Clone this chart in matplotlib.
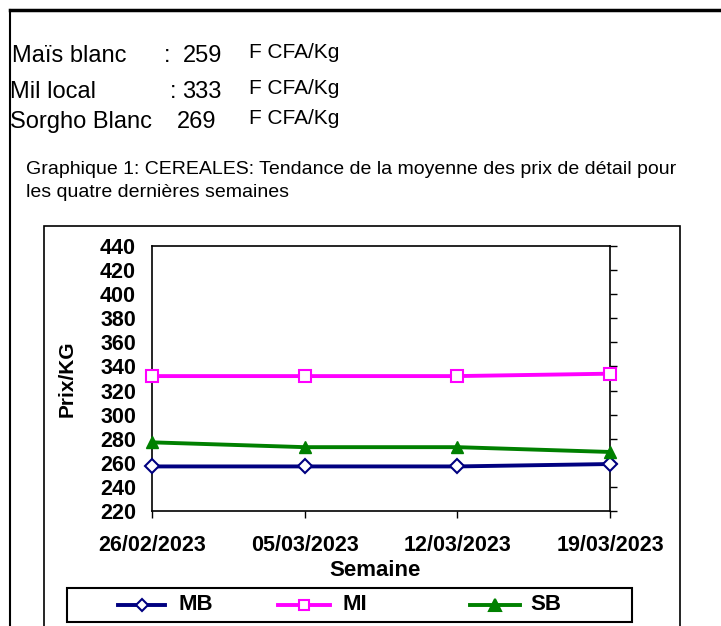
import matplotlib
matplotlib.use("Agg")
import matplotlib.pyplot as plt
from matplotlib.lines import Line2D
from matplotlib.patches import Rectangle

# ---- data ----
weeks = ["26/02/2023", "05/03/2023", "12/03/2023", "19/03/2023"]
mb = [257, 257, 257, 259]
mi = [332, 332, 332, 334]
sb = [277, 273, 273, 269]
series_names = ["MB", "MI", "SB"]
yticks = list(range(220, 441, 20))
summary_names = ["Maïs blanc", "Mil local", "Sorgho Blanc"]
summary_seps = [":", ":", ""]
summary_vals = ["259", "333", "269"]
unit = "F CFA/Kg"
caption = ["Graphique 1: CEREALES: Tendance de la moyenne des prix de détail pour",
           "les quatre dernières semaines"]

plt.rcParams['font.family'] = ['Liberation Sans', 'DejaVu Sans']

W, H = 721, 626
fig = plt.figure(figsize=(W / 100, H / 100), dpi=100)

def fx(x):
    return x / W

def fy(y):
    return 1 - y / H

# outer frame lines
fig.add_artist(Line2D([fx(10), fx(721)], [fy(10), fy(10)], color="black", lw=2.5))
fig.add_artist(Line2D([fx(10), fx(10)], [fy(10), fy(626)], color="black", lw=1.5))

# summary text
rows_y = [56, 92, 122]
name_x = [12, 10, 10]
sep_x = [164, 170, 0]
val_x = [183, 182, 177]
for i in range(3):
    fig.text(fx(name_x[i]), fy(rows_y[i]), summary_names[i], fontsize=17, va="center", ha="left")
    if summary_seps[i]:
        fig.text(fx(sep_x[i]), fy(rows_y[i]), summary_seps[i], fontsize=17, va="center", ha="left")
    fig.text(fx(val_x[i]), fy(rows_y[i]), summary_vals[i], fontsize=17, va="center", ha="left")
    fig.text(fx(249), fy(rows_y[i] - 3), unit, fontsize=15, va="center", ha="left")

fig.text(fx(26), fy(169), caption[0], fontsize=14, va="center", ha="left")
fig.text(fx(26), fy(193), caption[1], fontsize=14, va="center", ha="left")

# chart box
fig.add_artist(Rectangle((fx(44), fy(630)), fx(680) - fx(44), fy(226) - fy(630),
                         fill=False, edgecolor="black", lw=1.2, transform=fig.transFigure))

# axes
left, right, top, bottom = 152, 610, 246, 511
ax = fig.add_axes([fx(left), fy(bottom), fx(right) - fx(left), fy(top) - fy(bottom)])
x = list(range(len(weeks)))
ax.plot(x, mb, color="#000080", lw=2.8, marker="D", markersize=7, clip_on=False,
        markerfacecolor="white", markeredgecolor="#000080", markeredgewidth=1.5, label=series_names[0], zorder=3)
ax.plot(x, mi, color="#FF00FF", lw=2.8, marker="s", markersize=8, clip_on=False,
        markerfacecolor="white", markeredgecolor="#FF00FF", markeredgewidth=1.5, label=series_names[1], zorder=3)
ax.plot(x, sb, color="#008000", lw=2.8, marker="^", markersize=9, clip_on=False,
        markerfacecolor="#008000", markeredgecolor="#008000", label=series_names[2], zorder=3)

ax.set_xlim(0, len(weeks) - 1)
ax.set_ylim(220, 440)
ax.set_yticks(yticks)
ax.set_yticklabels([str(v) for v in yticks], fontsize=15.5, fontweight="bold")
ax.set_xticks(x)
ax.set_xticklabels(weeks, fontsize=15.5, fontweight="bold")
ax.tick_params(axis="y", left=False, right=True, labelleft=True, direction="out", length=5, width=1, pad=6.5)
ax.tick_params(axis="x", bottom=True, direction="out", length=5, width=1, pad=12)
for s in ax.spines.values():
    s.set_linewidth(1.2)
ax.set_ylabel("Prix/KG", fontsize=15, fontweight="bold")
ax.set_xlabel("Semaine", fontsize=16, fontweight="bold")
ax.xaxis.set_label_coords((375 - left) / (right - left), -(560 - bottom) / (bottom - top))
ax.yaxis.set_label_coords(-(152 - 77) / (right - left), 0.5)

# legend box
fig.add_artist(Rectangle((fx(67), fy(622)), fx(632) - fx(67), fy(588) - fy(622),
                         fill=False, edgecolor="black", lw=1.5, transform=fig.transFigure))
leg_specs = [
    (118, 165, 178, "#000080", "D", "white", 6),
    (278, 330, 343, "#FF00FF", "s", "white", 7),
    (470, 520, 530, "#008000", "^", "#008000", 8),
]
ly = 605
for (x0, x1, tx, c, m, fc, ms), name in zip(leg_specs, series_names):
    fig.add_artist(Line2D([fx(x0), fx(x1)], [fy(ly), fy(ly)], color=c, lw=2.8))
    fig.add_artist(Line2D([fx((x0 + x1) / 2)], [fy(ly)], color=c, marker=m, markersize=ms,
                          markerfacecolor=fc, markeredgecolor=c, markeredgewidth=1.5, lw=0))
    fig.text(fx(tx), fy(ly), name, fontsize=16, fontweight="bold", va="center", ha="left")

fig.savefig("out.png", dpi=100)
